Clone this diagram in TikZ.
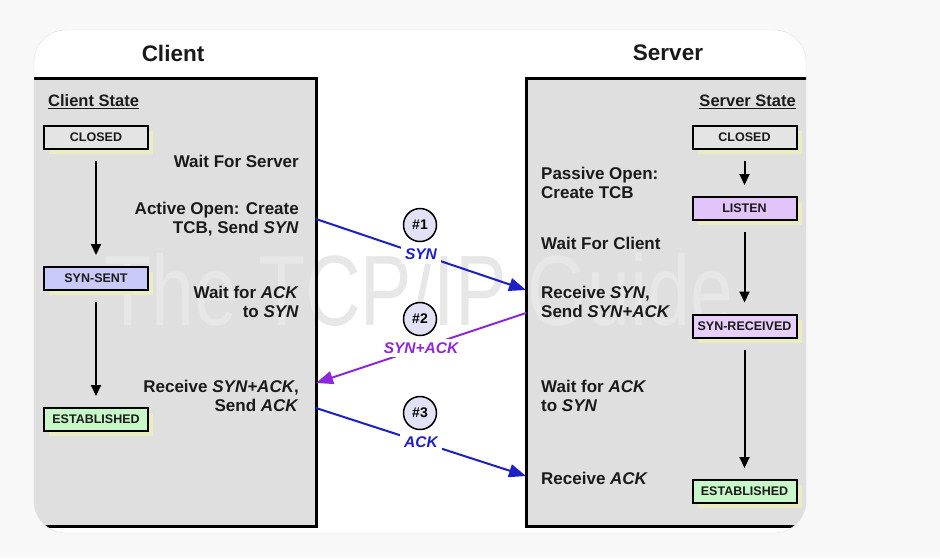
\documentclass[tikz,border=0pt]{standalone}
\usepackage{fontspec}
\setmainfont{Liberation Sans}
\usetikzlibrary{arrows.meta,shadows}

\definecolor{bgc}{RGB}{248,248,248}
\definecolor{panelc}{RGB}{223,223,223}
\definecolor{wmc}{RGB}{231,231,231}
\definecolor{closedc}{RGB}{228,228,228}
\definecolor{sentc}{RGB}{202,202,250}
\definecolor{listenc}{RGB}{226,196,250}
\definecolor{recvc}{RGB}{232,206,250}
\definecolor{estc}{RGB}{200,248,200}
\definecolor{shadowc}{RGB}{236,236,194}
\definecolor{bluec}{RGB}{30,30,200}
\definecolor{purplec}{RGB}{140,40,220}
\definecolor{numc}{RGB}{226,226,246}
\definecolor{inkc}{RGB}{26,26,26}

\begin{document}
\begin{tikzpicture}[x=1pt, y=-1pt, node distance=141pt,
  title/.style = {font=\fontsize{22.5}{26}\selectfont\bfseries, text=inkc},
  hdr/.style = {font=\fontsize{16.5}{19}\selectfont\bfseries, text=inkc, inner sep=0pt},
  txt/.style = {font=\fontsize{17}{19}\selectfont\bfseries, text=inkc, inner sep=0pt},
  state/.style = {draw, line width=2pt, minimum width=104pt, minimum height=23pt, inner sep=0pt,
    font=\fontsize{12.5}{14}\selectfont\bfseries, text=inkc,
    general shadow={fill=shadowc, shadow xshift=5pt, shadow yshift=-5pt}},
  flow/.style = {line width=2pt, -{Triangle[length=11pt,width=10pt]}, shorten >=11pt, shorten <=11pt},
  msg/.style = {line width=2pt, -{Triangle[length=17pt,width=13pt]}},
  lbl/.style = {fill=white, inner sep=4pt, font=\fontsize{15.5}{18}\selectfont\bfseries\itshape},
  num/.style = {draw, circle, line width=1.5pt, fill=numc, minimum size=33pt, inner sep=0pt,
    font=\fontsize{14}{16}\selectfont\bfseries}]
  \useasboundingbox (0,0) rectangle (940,558);
  \fill[bgc] (0,0) rectangle (940,558);

  % card with the two panels
  \begin{scope}
    \clip[rounded corners=32pt] (34,30) rectangle (806,533);
    \fill[white] (34,30) rectangle (806,533);
    \fill[panelc] (28,78) rectangle (316,526);
    \fill[panelc] (526,78) rectangle (812,526);
    \node[text=wmc, anchor=base west, inner sep=0pt, font=\fontsize{100}{100}\selectfont] (wm) at (104,325)
      {\scalebox{0.77}[1]{The TCP/IP Guide}};
    \draw[line width=3pt] (28,78) rectangle (316,526);
    \draw[line width=3pt] (526,78) rectangle (812,526);
  \end{scope}
  \draw[black!12] [rounded corners=32pt] (34,30) rectangle (806,533);

  \node[title] (ct) at (173,53) {Client};
  \node[title] (st) at (668,53) {Server};
  \node[hdr, anchor=west] (ch) at (48,102) {\underline{Client State}};
  \node[hdr, anchor=east] (sh) at (796,102) {\underline{Server State}};

  % client states
  \node[state, fill=closedc] (c1) at (96,137.5) {CLOSED};
  \node[state, fill=sentc] (c2) [below of=c1] {SYN-SENT};
  \node[state, fill=estc] (c3) [below of=c2] {ESTABLISHED};
  \draw[flow] (c1) -- (c2);
  \draw[flow] (c2) -- (c3);

  % server states
  \node[state, fill=closedc] (s1) at (744.5,137.5) {CLOSED};
  \node[state, fill=listenc, node distance=71pt] (s2) [below of=s1] {LISTEN};
  \node[state, fill=recvc, node distance=117.5pt] (s3) [below of=s2] {SYN-RECEIVED};
  \node[state, fill=estc, node distance=165.5pt] (s4) [below of=s3] {ESTABLISHED};
  \draw[flow] (s1) -- (s2);
  \draw[flow] (s2) -- (s3);
  \draw[flow] (s3) -- (s4);

  % client side texts
  \node[txt, anchor=east, align=right] (t1) at (299,161) {Wait For Server};
  \node[txt, anchor=east, align=right] (t2) at (299,219) {Active Open: Create\\TCB, Send \textit{SYN}};
  \node[txt, anchor=east, align=right] (t3) at (299,302) {Wait for \textit{ACK}\\to \textit{SYN}};
  \node[txt, anchor=east, align=right] (t4) at (299,396) {Receive \textit{SYN+ACK},\\Send \textit{ACK}};

  % server side texts
  \node[txt, anchor=west, align=left] (u1) at (541,183) {Passive Open:\\Create TCB};
  \node[txt, anchor=west, align=left] (u2) at (541,243) {Wait For Client};
  \node[txt, anchor=west, align=left] (u3) at (541,302) {Receive \textit{SYN},\\Send \textit{SYN+ACK}};
  \node[txt, anchor=west, align=left] (u4) at (541,396) {Wait for \textit{ACK}\\to \textit{SYN}};
  \node[txt, anchor=west, align=left] (u5) at (541,478) {Receive \textit{ACK}};

  % handshake messages
  \coordinate (a1) at (316,219);
  \coordinate (b1) at (526,290);
  \coordinate (b2) at (526,313);
  \coordinate (a2) at (316,383);
  \coordinate (a3) at (316,408);
  \coordinate (b3) at (526,476);
  \draw[msg, bluec] (a1) -- node[lbl, text=bluec] (m1) {SYN} (b1);
  \draw[msg, purplec] (b2) -- node[lbl, text=purplec] (m2) {SYN+ACK} (a2);
  \draw[msg, bluec] (a3) -- node[lbl, text=bluec] (m3) {ACK} (b3);
  \node[num] (n1) at (420,225) {\#1};
  \node[num] (n2) at (420,319) {\#2};
  \node[num] (n3) at (420,413) {\#3};
\end{tikzpicture}
\end{document}
